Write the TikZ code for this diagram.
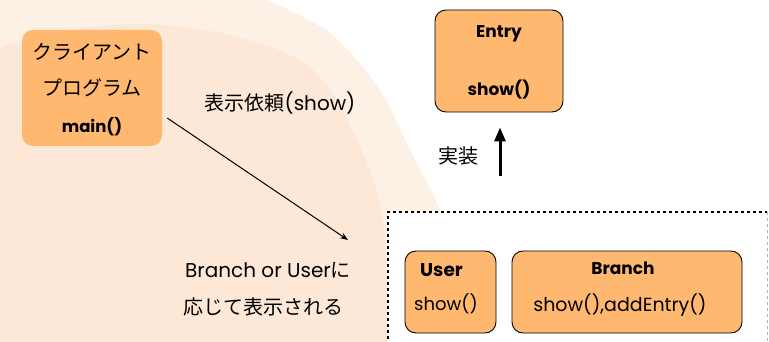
\documentclass[tikz,border=0pt]{standalone}
\usepackage{fontspec}
\setmainfont{Poppins}
\newfontfamily\jp{Noto Sans CJK JP}
\usetikzlibrary{arrows.meta,calc}
\definecolor{outerc}{RGB}{253,240,228}
\definecolor{innerc}{RGB}{253,232,216}
\definecolor{boxc}{RGB}{255,184,112}
\tikzset{
  clsbox/.style={rounded corners=11pt, fill=boxc, draw=black, line width=0.9pt},
  txt/.style={inner sep=0pt, font=\fontsize{20}{24}\selectfont},
  jtxt/.style={inner sep=0pt, font=\jp\fontsize{20}{24}\selectfont},
  btxt/.style={inner sep=0pt, font=\bfseries\fontsize{17}{20}\selectfont},
}
\begin{document}
\begin{tikzpicture}[x=1pt,y=-1pt]
\useasboundingbox (0,0) rectangle (769,342);
% background
\fill[outerc] plot[smooth] coordinates {(267,0) (330,33) (380,90) (410,150) (440,210) (460,280) (470,342)} -- (0,342) -- (0,0) -- cycle;
\fill[innerc] plot[smooth] coordinates {(0,48) (53,32) (140,24) (230,35) (310,67) (357,140) (383,220) (388,342)} -- (0,342) -- cycle;
% frame
\fill[white] (388,212) rectangle (769,342);
\draw[black, dashed, dash pattern=on 3pt off 3pt, line width=1.2pt] (388,345) -- (388,212) -- (767,212);
\draw[gray!60, dashed, dash pattern=on 3pt off 3pt, line width=1pt] (767,212) -- (767,345);
% client box
\node[rounded corners=11pt, fill=boxc, minimum width=140pt, minimum height=116pt, inner sep=0pt] (client) at (92,88) {};
\node[jtxt] (c1) at (92,52) {クライアント};
\node[jtxt] (c2) at (92,88) {プログラム};
\node[btxt, font=\bfseries\fontsize{16.5}{20}\selectfont] (c3) at (92,127) {main()};
% request arrow
\coordinate (rs) at ($(client.east)+(5,30)$);
\coordinate (re) at (348,240);
\draw[-{Stealth[length=8pt,width=6pt]}, line width=1pt] (rs) -- (re);
\node[txt] (req) at (280,103) {{\jp 表示依頼}(show)};
\node[txt] (l1) at (268,270) {Branch or User{\jp に}};
\node[jtxt] (l2) at (263,307) {応じて表示される};
% entry
\node[clsbox, minimum width=128pt, minimum height=102pt, inner sep=0pt] (entry) at (499,61) {};
\node[btxt] (e1) at (499,34) {Entry};
\node[btxt] (e2) at (499,90) {show()};
% implement arrow
\coordinate (impl) at (500,176);
\draw[-{Triangle[length=14pt,width=11pt]}, line width=3pt] (impl) -- ($(entry.south)+(1,15)$);
\node[jtxt] (jl) at (458,156) {実装};
% user & branch
\node[clsbox, minimum width=91pt, minimum height=82pt, inner sep=0pt] (user) at (450.5,292) {};
\node[btxt, font=\bfseries\fontsize{18.5}{20}\selectfont, anchor=west] (u1) at (420,270) {User};
\node[txt, font=\fontsize{18}{20}\selectfont] (u2) at (446,304) {show()};
\node[clsbox, minimum width=230pt, minimum height=82pt, inner sep=0pt] (branch) at (627,292) {};
\node[btxt] (b1) at (623,268) {Branch};
\node[txt, font=\fontsize{19}{20}\selectfont] (b2) at (620,305) {show(),addEntry()};
\end{tikzpicture}
\end{document}
